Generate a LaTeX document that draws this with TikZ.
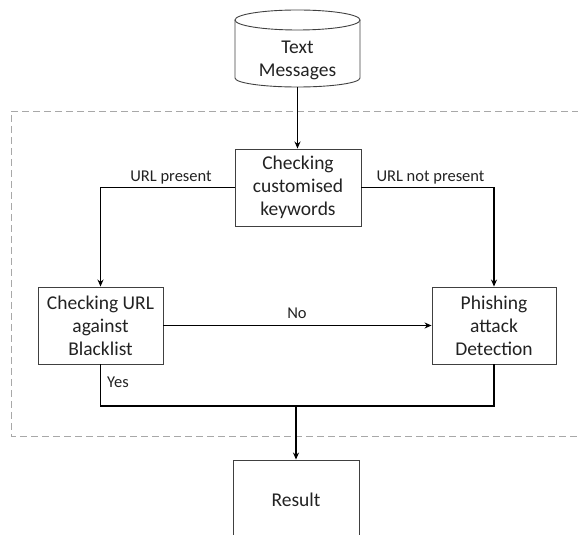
\documentclass[tikz,border=0pt]{standalone}
\usepackage{fontspec}
\setmainfont{Carlito}
\usetikzlibrary{arrows.meta}
\definecolor{boxline}{HTML}{404040}
\definecolor{dashline}{HTML}{A8A8A8}
\definecolor{txt}{HTML}{222222}
\tikzset{
  procbox/.style={draw=boxline, line width=0.9pt, align=center, inner sep=0pt,
    text=txt, font=\fontsize{19.5}{23}\selectfont},
  conn/.style={line width=1.5pt, black},
  arr/.style={conn, -{Stealth[length=7pt,width=6pt]}},
  lbl/.style={text=txt, font=\fontsize{16.5}{20}\selectfont, inner sep=1pt},
  region/.style={dashline, line width=0.9pt, dash pattern=on 7pt off 4pt}
}
\begin{document}
\begin{tikzpicture}[x=1pt,y=1pt]
\useasboundingbox (0,0) rectangle (578,535);
% dashed region
\draw[region] (590,424) -- (11,424) -- (11,99) -- (590,99);
% cylinder
\draw[boxline, line width=0.9pt] (297.5,515) ellipse [x radius=62.5, y radius=10];
\draw[boxline, line width=0.9pt] (235,515) -- (235,457)
   arc[start angle=180, end angle=360, x radius=62.5, y radius=9] -- (360,515);
\node[text=txt, font=\fontsize{19.5}{23}\selectfont, align=center, inner sep=0pt] (tm) at (297.5,475) {Text\\Messages};
\coordinate (tmb) at (297.5,448);
% boxes
\node[procbox, minimum width=126pt, minimum height=77pt] (kw) at (298,347.5) {Checking\\customised\\keywords};
\node[procbox, minimum width=125pt, minimum height=77pt] (bl) at (100.5,209.5) {Checking URL\\against\\Blacklist};
\node[procbox, minimum width=124pt, minimum height=77pt] (ph) at (494,209.5) {Phishing\\attack\\Detection};
\node[procbox, minimum width=126pt, minimum height=80pt] (res) at (296,35) {Result};
\coordinate (j) at (296,129);
% connectors
\draw[arr] (tmb) -- (kw.north -| tmb);
\draw[arr] (kw.west) -| (bl.north);
\draw[arr] (kw.east) -| (ph.north);
\draw[arr] (bl.east) -- (ph.west);
\draw[conn] (bl.south) |- (j) -| (ph.south);
\draw[arr] (j) -- (res.north);
% labels
\node[lbl] (l1) at (171,357) {URL present};
\node[lbl] (l2) at (430.5,357) {URL not present};
\node[lbl] (l3) at (297,222) {No};
\node[lbl] (l4) at (118,153) {Yes};
\end{tikzpicture}
\end{document}
